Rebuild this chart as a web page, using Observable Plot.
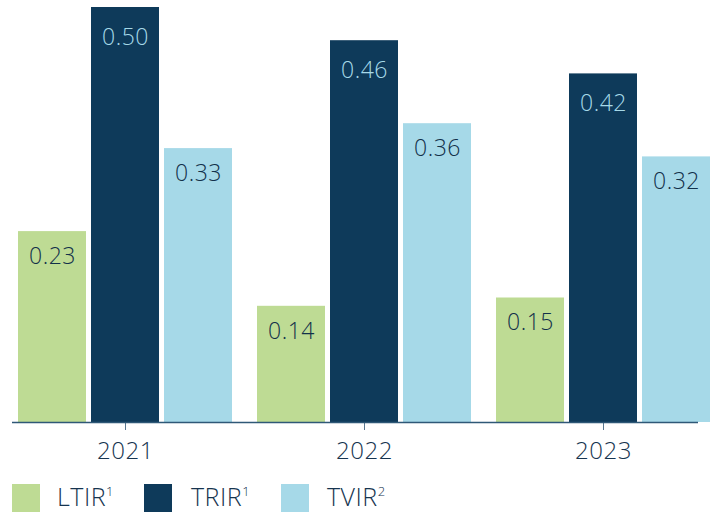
<!DOCTYPE html>
<html>
<head>
<meta charset="utf-8">
<script src="https://cdn.jsdelivr.net/npm/d3@7"></script>
<script src="https://cdn.jsdelivr.net/npm/@observablehq/plot@0.6"></script>
<style>
  html, body { margin: 0; padding: 0; background: #fff; }
  body { font-family: "Open Sans", sans-serif; width: 714px; }
  .legend { position: relative; height: 28px; margin-top: 14px; color: #16344f; font-size: 25px; font-weight: 300; }
  .legend .sw { position: absolute; top: 0; width: 28px; height: 28px; }
  .legend .lab { position: absolute; top: -2px; line-height: 28px; letter-spacing: 0.5px; white-space: nowrap; }
  .legend sup { font-size: 13px; vertical-align: 10px; line-height: 0; }
</style>
</head>
<body>
<div id="chart"></div>
<script>
const years = ["2021", "2022", "2023"];
const series = ["LTIR", "TRIR", "TVIR"];
const ltir = [0.23, 0.14, 0.15];
const trir = [0.50, 0.46, 0.42];
const tvir = [0.33, 0.36, 0.32];
const colors = ["#bedb94", "#0e3a5a", "#a6d9e8"];
const labelColors = ["#12304a", "#a6d9e8", "#12304a"];
const legendLabels = [["LTIR", "1"], ["TRIR", "1"], ["TVIR", "2"]];

const valuesBySeries = [ltir, trir, tvir];
const data = [];
years.forEach((yr, i) => {
  series.forEach((s, j) => {
    data.push({ year: yr, series: s, value: valuesBySeries[j][i] });
  });
});

const plot = Plot.plot({
  width: 714,
  height: 470,
  marginTop: 7,
  marginBottom: 48,
  marginLeft: 18,
  marginRight: 4,
  style: { fontFamily: "'Open Sans', sans-serif", fontSize: "24px", fontWeight: 300, color: "#16344f", background: "#fff", letterSpacing: "0.5px" },
  fx: { domain: years, paddingInner: 0.105, paddingOuter: 0, label: null, axis: "bottom", tickSize: 8, tickPadding: 11 },
  x: { domain: series, paddingInner: 0.07, paddingOuter: 0, axis: null },
  y: { domain: [0, 0.5], axis: null },
  color: { domain: series, range: colors },
  marks: [
    Plot.barY(data, { fx: "year", x: "series", y: "value", fill: "series" }),
    Plot.text(data.filter(d => d.series !== "TRIR"), {
      fx: "year", x: "series", y: "value", text: d => d.value.toFixed(2),
      dy: 25, fill: labelColors[0], fontSize: 23, lineAnchor: "middle"
    }),
    Plot.text(data.filter(d => d.series === "TRIR"), {
      fx: "year", x: "series", y: "value", text: d => d.value.toFixed(2),
      dy: 30, fill: labelColors[1], fontSize: 23, lineAnchor: "middle"
    })
  ]
});
document.getElementById("chart").appendChild(plot);

// continuous baseline across the whole chart
const svg = d3.select(plot.tagName.toLowerCase() === "svg" ? plot : plot.querySelector("svg"));
const y0 = plot.scale("y").apply(0);
svg.append("line")
  .attr("x1", 12).attr("x2", 698)
  .attr("y1", y0 + 0.5).attr("y2", y0 + 0.5)
  .attr("stroke", "#2f5877").attr("stroke-width", 1.5);
svg.selectAll("[aria-label='fx-axis tick'] path, [aria-label='fx-axis tick'] line").attr("stroke", "#5a7890");

// legend
const swatchX = [12, 144, 281];
const labelX = [57, 191, 327];
const legend = d3.select("body").append("div").attr("class", "legend");
series.forEach((s, j) => {
  legend.append("span").attr("class", "sw").style("left", swatchX[j] + "px").style("background", colors[j]);
  const lab = legend.append("span").attr("class", "lab").style("left", labelX[j] + "px");
  lab.append("span").text(legendLabels[j][0]);
  lab.append("sup").text(legendLabels[j][1]);
});
</script>
</body>
</html>
